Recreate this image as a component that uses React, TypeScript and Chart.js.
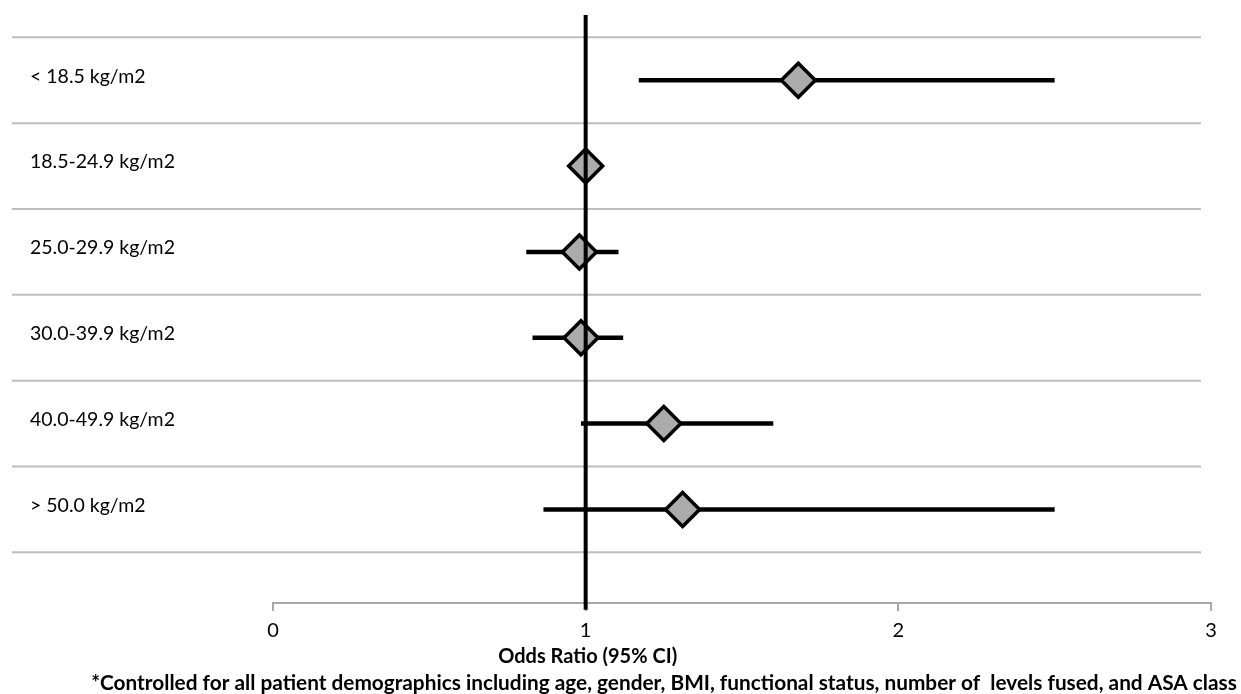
import React, { useEffect, useRef } from "react";
import { Chart, registerables } from "chart.js";

Chart.register(...registerables);

const categories = [
  "< 18.5 kg/m2",
  "18.5-24.9 kg/m2",
  "25.0-29.9 kg/m2",
  "30.0-39.9 kg/m2",
  "40.0-49.9 kg/m2",
  "> 50.0 kg/m2",
];
const oddsRatio = [1.68, 1.0, 0.98, 0.985, 1.25, 1.31];
const ciLower = [1.17, 1.0, 0.81, 0.83, 0.985, 0.865];
const ciUpper = [2.5, 1.0, 1.105, 1.12, 1.6, 2.5];
const xTicks = [0, 1, 2, 3];
const referenceValue = 1;
const xTitle = "Odds Ratio (95% CI)";
const footnote =
  "*Controlled for all patient demographics including age, gender, BMI, functional status, number of  levels fused, and ASA class";

const FONT = "Lato, 'Open Sans', 'Noto Sans', sans-serif";

const rowY = (i: number) => categories.length - 1 - i + 0.5;

export default function App() {
  const ref = useRef<HTMLCanvasElement | null>(null);

  useEffect(() => {
    if (!ref.current) return;

    const rowsPlugin = {
      id: "rows",
      beforeDatasetsDraw(chart: any) {
        const { ctx, scales } = chart;
        const y = scales.y;
        ctx.save();
        ctx.strokeStyle = "#bdbdbd";
        ctx.lineWidth = 2;
        for (let b = 0; b <= categories.length; b++) {
          const py = y.getPixelForValue(b);
          ctx.beginPath();
          ctx.moveTo(12, py);
          ctx.lineTo(1201, py);
          ctx.stroke();
        }
        ctx.fillStyle = "#000";
        ctx.font = `19.5px ${FONT}`;
        ctx.textBaseline = "middle";
        ctx.textAlign = "left";
        categories.forEach((c, i) => {
          ctx.fillText(c, 30, y.getPixelForValue(rowY(i)) - 4);
        });
        ctx.restore();
      },
      afterDraw(chart: any) {
        const { ctx, scales } = chart;
        const x = scales.x;
        ctx.save();
        ctx.fillStyle = "#000";
        ctx.textBaseline = "middle";
        ctx.textAlign = "center";
        ctx.font = `bold 20px ${FONT}`;
        ctx.fillText(xTitle, x.getPixelForValue(referenceValue) + 2, 657);
        ctx.font = `bold 17px ${FONT}`;
        const w = ctx.measureText(footnote).width;
        const target = 1146;
        const size = (17 * target) / w;
        ctx.font = `bold ${size.toFixed(2)}px ${FONT}`;
        ctx.fillText(footnote, 664, 683);
        ctx.restore();
      },
    };

    const ciDatasets = categories.map((c, i) => ({
      type: "scatter" as const,
      label: c + " CI",
      data: [
        { x: ciLower[i], y: rowY(i) },
        { x: ciUpper[i], y: rowY(i) },
      ],
      showLine: true,
      borderColor: "#000",
      borderWidth: 4.5,
      pointRadius: 0,
      borderCapStyle: "butt",
      order: 2,
    }));

    const chart = new Chart(ref.current, {
      type: "scatter",
      data: {
        datasets: [
          ...ciDatasets,
          {
            type: "scatter",
            label: "Odds ratio",
            data: oddsRatio.map((v, i) => ({ x: v, y: rowY(i) })),
            pointStyle: "rectRot",
            pointRadius: 17,
            pointBackgroundColor: "#ababab",
            pointBorderColor: "#000",
            pointBorderWidth: 3.5,
            showLine: false,
            order: 1,
          },
          {
            type: "scatter",
            label: "Reference",
            data: [
              { x: referenceValue, y: 6.26 },
              { x: referenceValue, y: -0.67 },
            ],
            showLine: true,
            borderColor: "#000",
            borderWidth: 4,
            pointRadius: 0,
            clip: false,
            order: 0,
          },
        ] as any,
      },
      options: {
        animation: false,
        responsive: true,
        maintainAspectRatio: false,
        layout: {
          autoPadding: false,
          padding: { left: 273, right: 30, top: 15, bottom: 43 },
        },
        plugins: {
          legend: { display: false },
          tooltip: { enabled: false },
          title: { display: false },
        },
        scales: {
          x: {
            type: "linear",
            min: 0,
            max: 3,
            afterBuildTicks: (scale: any) => {
              scale.ticks = xTicks.map((v) => ({ value: v }));
            },
            ticks: {
              color: "#000",
              font: { family: FONT, size: 20 },
              padding: 8,
            },
            grid: {
              drawOnChartArea: false,
              drawTicks: true,
              tickLength: 8,
              color: "#a8a8a8",
              lineWidth: 2,
            },
            border: { color: "#a8a8a8", width: 2 },
          },
          y: {
            type: "linear",
            display: false,
            min: -0.59,
            max: 6.26,
          },
        },
      } as any,
      plugins: [rowsPlugin],
    });

    return () => chart.destroy();
  }, []);

  return (
    <div
      style={{
        position: "fixed",
        left: 0,
        top: 0,
        width: 1241,
        height: 694,
        background: "#fff",
      }}
    >
      <canvas ref={ref} />
    </div>
  );
}
